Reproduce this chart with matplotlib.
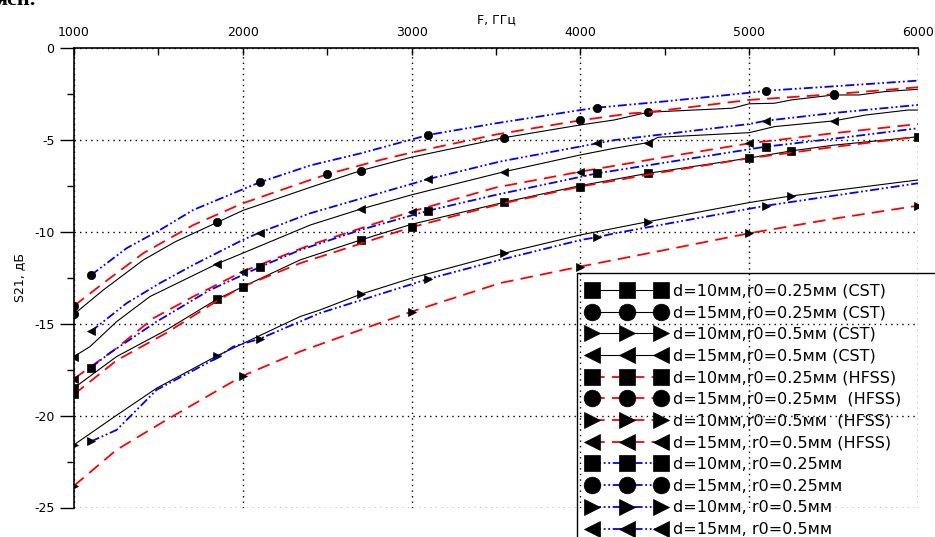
import matplotlib.pyplot as plt
from matplotlib.ticker import MultipleLocator

plt.rcParams['font.family'] = 'DejaVu Sans'
plt.rcParams['axes.unicode_minus'] = False

# --- CST (black, solid) ---
f_cst_sq = [1000, 1253, 1549, 1850, 2000, 2339, 2700, 3000, 3550, 4000, 4400, 5000, 5250, 5500, 6000]
s_cst_sq = [-18.5, -16.79, -15.34, -13.66, -13.0, -11.54, -10.45, -9.6, -8.4, -7.5, -6.83, -6.0, -5.61, -5.3, -4.84]
m_cst_sq = [1000, 1850, 2700, 3550, 4400, 5250]

f_cst_ci = [1000, 1174, 1411, 1600, 1850, 2000, 2400, 2700, 3000, 3550, 4000, 4200, 4400, 4900, 5000,
            5150, 5250, 5500, 5650, 5800, 6000]
s_cst_ci = [-14.49, -13.17, -11.54, -10.55, -9.49, -8.85, -7.59, -6.68, -5.95, -4.89, -4.2, -3.93, -3.51,
            -3.29, -3.05, -3.02, -2.84, -2.57, -2.57, -2.39, -2.26]
m_cst_ci = [1000, 1850, 2700, 3550, 4400, 5500]

f_cst_rt = [1000, 1250, 1490, 1850, 2339, 2457, 2700, 3000, 3550, 4000, 4200, 4400, 5000, 5250, 6000]
s_cst_rt = [-21.59, -20.0, -18.51, -16.74, -14.62, -14.26, -13.4, -12.53, -11.17, -10.18, -9.82, -9.46,
            -8.42, -8.06, -7.19]
m_cst_rt = [1000, 1850, 2700, 3550, 4400, 5250]

f_cst_lt = [1000, 1095, 1253, 1450, 1850, 2000, 2400, 2700, 3000, 3550, 4000, 4200, 4400, 4460, 5000,
            5150, 5500, 5690, 5940, 6000]
s_cst_lt = [-16.79, -16.25, -14.89, -13.53, -11.74, -11.17, -9.64, -8.77, -8.0, -6.74, -5.83, -5.47, -5.16,
            -4.87, -4.62, -4.29, -3.98, -3.66, -3.39, -3.39]
m_cst_lt = [1000, 1850, 2700, 3550, 4400, 5500]

# --- HFSS (red, dashed) ---
f_hfss_sq = [1000, 1253, 1549, 1850, 2000, 2339, 3000, 3524, 4000, 4500, 5000, 5500, 6000]
s_hfss_sq = [-18.85, -17.0, -15.5, -13.75, -12.99, -11.72, -9.76, -8.5, -7.55, -6.75, -6.01, -5.4, -4.84]
m_hfss_sq = [1000, 2000, 3000, 4000, 5000, 6000]

f_hfss_ci = [1000, 1174, 1411, 1707, 2000, 2400, 2500, 2813, 3000, 3500, 4000, 4300, 4400, 5000, 5500, 6000]
s_hfss_ci = [-14.04, -12.8, -11.17, -9.64, -8.46, -7.19, -6.88, -6.11, -5.7, -4.72, -3.95, -3.57, -3.51,
             -2.84, -2.53, -2.15]
m_hfss_ci = [1000, 2500, 4000, 5500]

f_hfss_rt = [1000, 1253, 1549, 2000, 2339, 3000, 3524, 4000, 4500, 5000, 5500, 6000]
s_hfss_rt = [-23.82, -21.86, -20.23, -17.84, -16.52, -14.35, -12.8, -11.9, -11.0, -10.09, -9.3, -8.59]
m_hfss_rt = [1000, 2000, 3000, 4000, 5000, 6000]

f_hfss_lt = [1000, 1250, 1470, 1707, 2000, 2400, 3000, 3500, 4000, 4500, 5000, 5500, 6000]
s_hfss_lt = [-18.0, -16.35, -14.71, -13.53, -12.17, -10.72, -8.91, -7.6, -6.74, -5.95, -5.2, -4.65, -4.15]
m_hfss_lt = [1000, 2000, 3000, 4000, 5000]

# --- third set (blue, dash-dot-dot) ---
f_b_sq = [1100, 1213, 1490, 1800, 2100, 2339, 2700, 3100, 3500, 4100, 4500, 5100, 5500, 6000]
s_b_sq = [-17.39, -16.6, -14.89, -13.2, -11.93, -11.0, -9.9, -8.86, -8.0, -6.83, -6.25, -5.38, -4.95, -4.38]

f_b_ci = [1100, 1312, 1509, 1707, 2000, 2100, 2400, 2700, 3100, 3500, 4000, 4100, 4500, 5000, 5100, 5500, 6000]
s_b_ci = [-12.37, -10.9, -9.91, -8.82, -7.7, -7.32, -6.4, -5.74, -4.74, -4.11, -3.39, -3.26, -2.92, -2.45,
          -2.34, -2.1, -1.79]

f_b_rt = [1100, 1253, 1391, 1490, 1825, 1944, 2100, 2457, 3100, 3524, 4004, 4100, 4205, 5100, 6000]
s_b_rt = [-21.41, -20.78, -19.51, -18.6, -16.97, -16.25, -15.83, -14.43, -12.57, -11.54, -10.45, -10.3,
          -10.09, -8.59, -7.37]

f_b_lt = [1100, 1312, 1509, 1707, 2000, 2100, 2400, 3100, 3524, 4100, 4205, 5000, 5100, 5500, 6000]
s_b_lt = [-15.43, -13.89, -12.8, -11.81, -10.45, -10.05, -9.0, -7.14, -6.19, -5.2, -5.02, -4.15, -3.97,
          -3.55, -3.11]
m_blue = [1100, 2100, 3100, 4100, 5100]

labels = [
    'd=10мм,r0=0.25мм (CST)',
    'd=15мм,r0=0.25мм (CST)',
    'd=10мм,r0=0.5мм (CST)',
    'd=15мм,r0=0.5мм (CST)',
    'd=10мм,r0=0.25мм (HFSS)',
    'd=15мм,r0=0.25мм  (HFSS)',
    'd=10мм,r0=0.5мм  (HFSS)',
    'd=15мм, r0=0.5мм (HFSS)',
    'd=10мм, r0=0.25мм',
    'd=15мм, r0=0.25мм',
    'd=10мм, r0=0.5мм',
    'd=15мм, r0=0.5мм',
]

black_style = dict(color='black', linestyle='-', linewidth=0.8)
red_style = dict(color='#ff0000', linestyle=(0, (7, 4)), linewidth=1.3)
blue_style = dict(color='#0000ff', linestyle=(0, (5, 1.5, 1, 1.5, 1, 1.5)), linewidth=1.3)

series = [
    (f_cst_sq, s_cst_sq, m_cst_sq, 's', black_style),
    (f_cst_ci, s_cst_ci, m_cst_ci, 'o', black_style),
    (f_cst_rt, s_cst_rt, m_cst_rt, '>', black_style),
    (f_cst_lt, s_cst_lt, m_cst_lt, '<', black_style),
    (f_hfss_sq, s_hfss_sq, m_hfss_sq, 's', red_style),
    (f_hfss_ci, s_hfss_ci, m_hfss_ci, 'o', red_style),
    (f_hfss_rt, s_hfss_rt, m_hfss_rt, '>', red_style),
    (f_hfss_lt, s_hfss_lt, m_hfss_lt, '<', red_style),
    (f_b_sq, s_b_sq, m_blue, 's', blue_style),
    (f_b_ci, s_b_ci, m_blue, 'o', blue_style),
    (f_b_rt, s_b_rt, m_blue, '>', blue_style),
    (f_b_lt, s_b_lt, m_blue, '<', blue_style),
]

fig = plt.figure(figsize=(9.35, 5.37), dpi=100)
ax = fig.add_axes([74 / 935, 1 - 507.5 / 537, (918 - 74) / 935, (507.5 - 47.7) / 537])

for (f, s, marks, mk, style), lab in zip(series, labels):
    idx = [f.index(m) for m in marks]
    ax.plot(f, s, marker=mk, markevery=idx, markersize=6, markerfacecolor='black',
            markeredgecolor='black', markeredgewidth=0.5, label=lab, **style)

ax.set_xlim(1000, 6000)
ax.set_ylim(-25, 0)
ax.xaxis.set_major_locator(MultipleLocator(1000))
ax.xaxis.set_minor_locator(MultipleLocator(500))
ax.yaxis.set_major_locator(MultipleLocator(5))
ax.yaxis.set_minor_locator(MultipleLocator(2.5))

ax.xaxis.tick_top()
ax.xaxis.set_label_position('top')
ax.tick_params(axis='x', which='both', direction='in', top=True, bottom=False, length=5, width=1,
               labelsize=9, pad=6)
ax.tick_params(axis='y', which='major', direction='out', length=10, width=1, labelsize=9, pad=4)
ax.tick_params(axis='y', which='minor', direction='out', length=5, width=1)

for side in ['bottom', 'right']:
    ax.spines[side].set_visible(False)
for side in ['top', 'left']:
    ax.spines[side].set_linewidth(1.2)

ax.grid(True, which='major', color='black', linestyle=(0, (1, 3)), linewidth=1)

ax.set_xlabel('F, ГГц', fontsize=9, labelpad=2)
ax.set_ylabel('S21, дБ', fontsize=9, labelpad=6)

# legend box runs past the right and bottom edges of the picture, as in the source
leg = fig.legend(loc='upper left', bbox_to_anchor=(577 / 935, 0, 370 / 935, 1 - 273 / 537),
                 mode='expand', borderaxespad=0,
                 fontsize=11.5, numpoints=3, markerscale=2, handlelength=4.9, handletextpad=0.45,
                 borderpad=0.65, labelspacing=0.42, fancybox=False, facecolor='none',
                 edgecolor='black', framealpha=1)
leg.get_frame().set_linewidth(1)

fig.text(-0.004, 1.0, 'ясн.', fontsize=16, family='Liberation Serif', fontweight='bold',
         va='center', ha='left')

fig.savefig('out.png', dpi=100)
